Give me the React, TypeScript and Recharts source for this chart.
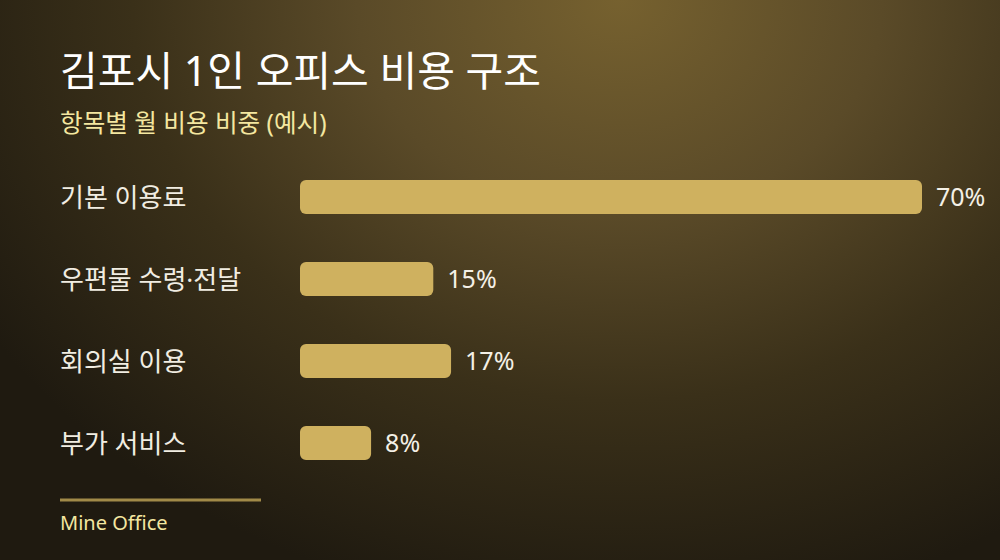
import React from "react";
import { BarChart, Bar, XAxis, YAxis, LabelList } from "recharts";

const categories = ["기본 이용료", "우편물 수령·전달", "회의실 이용", "부가 서비스"];
const shares = [70, 15, 17, 8];
const valueSuffix = "%";

const titleText = "김포시 1인 오피스 비용 구조";
const subtitleText = "항목별 월 비용 비중 (예시)";
const footerText = "Mine Office";

const data = categories.map((name, i) => ({ name, value: shares[i] }));

const FONT = "'Noto Sans', 'Noto Sans CJK KR', sans-serif";

const CategoryTick = (props: any) => {
  const { y, payload } = props;
  return (
    <text
      x={60}
      y={y}
      dominantBaseline="central"
      textAnchor="start"
      fill="#f1ede2"
      fontSize={26}
      fontFamily={FONT}
    >
      {payload.value}
    </text>
  );
};

export default function App() {
  return (
    <div
      style={{
        position: "absolute",
        left: 0,
        top: 0,
        width: 1000,
        height: 560,
        overflow: "hidden",
        background:
          "radial-gradient(ellipse 75% 110% at 62% 0%, #76612f 0%, #5a4a28 35%, #3a3019 65%, #1f1a10 100%)",
      }}
    >
      <BarChart
        width={1000}
        height={560}
        data={data}
        layout="vertical"
        margin={{ top: 156, right: 78, bottom: 76, left: 0 }}
        barCategoryGap={0}
      >
        <XAxis type="number" domain={[0, 70]} hide />
        <YAxis
          type="category"
          dataKey="name"
          width={300}
          axisLine={false}
          tickLine={false}
          tick={<CategoryTick />}
        />
        <Bar
          dataKey="value"
          fill="#cfb15f"
          barSize={34}
          radius={[6, 6, 6, 6]}
          isAnimationActive={false}
        >
          <LabelList
            dataKey="value"
            position="right"
            offset={14}
            formatter={(v: any) => `${v}${valueSuffix}`}
            fill="#f4f0e6"
            fontSize={25}
            fontFamily={FONT}
          />
        </Bar>
      </BarChart>
      <svg
        width={1000}
        height={560}
        style={{ position: "absolute", left: 0, top: 0, pointerEvents: "none" }}
      >
        <text
          x={60}
          y={70}
          dominantBaseline="central"
          fill="#ffffff"
          fontSize={41}
          fontFamily={FONT}
        >
          {titleText}
        </text>
        <text
          x={60}
          y={122}
          dominantBaseline="central"
          fill="#f4e7a0"
          fontSize={24.6}
          fontFamily={FONT}
        >
          {subtitleText}
        </text>
        <line x1={60} x2={261} y1={500} y2={500} stroke="#a18a48" strokeWidth={3} />
        <text
          x={60}
          y={522}
          dominantBaseline="central"
          fill="#f4e7a0"
          fontSize={20}
          fontFamily={FONT}
        >
          {footerText}
        </text>
      </svg>
    </div>
  );
}
